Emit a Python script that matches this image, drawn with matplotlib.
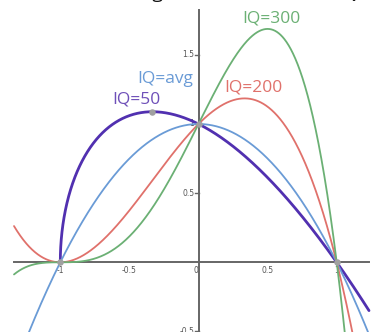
import numpy as np
import matplotlib
matplotlib.use("Agg")
import matplotlib.pyplot as plt

plt.rcParams['font.family'] = ['Open Sans', 'DejaVu Sans']

# Data: each curve is y = (1 - x) * (1 + x) ** n
labels = ["IQ=50", "IQ=avg", "IQ=200", "IQ=300"]
exponents = [0.5, 1.0, 2.0, 3.0]
label_x = [-0.625, -0.445, 0.185, 0.318]
label_y = [1.175, 1.325, 1.265, 1.76]
points_x = [-1.0, 0.0, 1.0, -1/3]
points_y = [0.0, 1.0, 0.0, 1.0887]
xtick_vals = [-1, -0.5, 0, 0.5, 1]
xtick_labels = ["-1", "-0.5", "0", "0.5", "1"]
ytick_vals = [-0.5, 0.5, 1, 1.5]
ytick_labels = ["-0.5", "0.5", "1", "1.5"]
title = "The average student's view of IQ"

line_colors = ["#5130b0", "#6a9bd6", "#e0716b", "#6bb074"]
text_colors = ["#6e4fb8", "#6a9bd6", "#e0716b", "#6bb074"]
line_widths = [2.0, 1.3, 1.3, 1.3]

W, H = 381, 332
fig = plt.figure(figsize=(W / 100, H / 100), dpi=100)
ax = fig.add_axes([0, 0, 1, 1])

x0_px, y0_px, sx, sy = 198.5, 262.3, 138.2, 138.3
ax.set_xlim((0 - x0_px) / sx, (W - x0_px) / sx)
ax.set_ylim((y0_px - H) / sy, (y0_px - 0) / sy)
ax.axis('off')

gx0, gx1 = (14 - x0_px) / sx, (369 - x0_px) / sx
gy1 = (y0_px - 10) / sy
gy0 = (y0_px - H) / sy

# axes
ax.plot([gx0, gx1], [0, 0], color="#666666", lw=1.4, zorder=2)
ax.plot([0, 0], [gy0, gy1], color="#666666", lw=1.4, zorder=2)

for v, t in zip(xtick_vals, xtick_labels):
    ax.text(v - (0.02 if v == 0 else 0), -0.03, t, ha='center', va='top',
            fontsize=5.5, color="#555555", family='DejaVu Sans', zorder=1)
for v, t in zip(ytick_vals, ytick_labels):
    ax.plot([-0.025, 0], [v, v], color="#666666", lw=1.0, zorder=2)
    ax.text(-0.03, v, t, ha='right', va='center', fontsize=5.5,
            color="#555555", family='DejaVu Sans', zorder=1)

for n, c, lw in zip(exponents, line_colors, line_widths):
    start = -1.0 if n < 1 else gx0
    x = np.linspace(start, gx1, 1500)
    if n < 1:
        x = np.concatenate([-1 + np.geomspace(1e-7, 0.05, 300), x[x > -0.95]])
    y = (1 - x) * np.power(1 + x, n)
    ax.plot(x, y, color=c, lw=lw, zorder=3, solid_capstyle='round')

ax.scatter(points_x, points_y, s=22, color="#a0a0a0", zorder=5, linewidths=0)

for lab, lx, ly, c in zip(labels, label_x, label_y, text_colors):
    ax.text(lx, ly, lab, color=c, fontsize=12.5, ha='left', va='center', zorder=6)

fig.text(0.5 + 20 / W, 1 + 2.0 / H, title, ha='center', va='baseline',
         fontsize=14, color="#111111")

fig.savefig("out.png", dpi=100)
